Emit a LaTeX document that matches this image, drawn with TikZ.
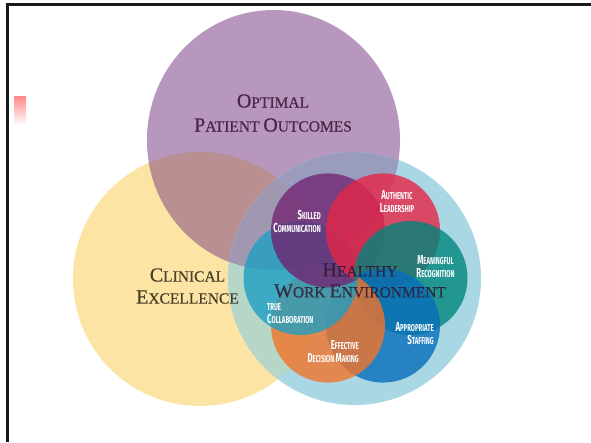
\documentclass[tikz,border=0pt]{standalone}
\usepackage{fontspec}
\newfontfamily\petalfont[FakeStretch=0.6]{Fira Sans}
\newfontfamily\capsfont[FakeBold=0.5]{Liberation Serif}
\definecolor{outcomes}{RGB}{184,151,190}
\definecolor{clinical}{RGB}{252,228,165}
\definecolor{hwe}{RGB}{170,215,228}
\definecolor{outclin}{RGB}{186,143,145}
\definecolor{outhwe}{RGB}{154,156,190}
\definecolor{clinhwe}{RGB}{182,215,200}
\definecolor{allthree}{RGB}{160,151,176}
\definecolor{pSkilled}{RGB}{115,39,115}
\definecolor{pAuthentic}{RGB}{229,38,70}
\definecolor{pMeaningful}{RGB}{0,134,124}
\definecolor{pStaffing}{RGB}{7,109,187}
\definecolor{pDecision}{RGB}{242,115,43}
\definecolor{pCollab}{RGB}{31,159,194}
\definecolor{txtOutcomes}{RGB}{72,38,72}
\definecolor{txtClinical}{RGB}{72,62,40}
\definecolor{txtHwe}{RGB}{48,28,52}
\definecolor{flag}{RGB}{255,135,135}
% small capitals built from two sizes of capitals
\newcommand\pcap[2]{{\fontsize{13}{13}\selectfont #1}{\fontsize{10}{13}\selectfont #2}}
\newcommand\psmall[1]{{\fontsize{10}{13}\selectfont #1}}
\newcommand\bcap[2]{{\fontsize{20}{20}\selectfont #1}{\fontsize{15.5}{20}\selectfont #2}}
\begin{document}
\begin{tikzpicture}[x=1pt,y=-1pt,
  petal/.style={fill opacity=0.8},
  bigtext/.style={font=\capsfont\fontsize{15.5}{24}\selectfont, align=center, inner sep=0pt},
  pettext/.style={text=white, font=\petalfont\bfseries\fontsize{10}{13}\selectfont, inner sep=0pt},
  frameline/.style={line width=3pt, color=black!90}]
\path[use as bounding box, fill=white] (0,0) rectangle (591,442);

% centres of the three large circles
\coordinate (cO) at (273.5,140);
\coordinate (cC) at (200,279);
\coordinate (cH) at (354.5,278.5);
% flower of six petals around the centre of the work environment circle
\coordinate (cS)  at (328,230.4);
\coordinate (cA)  at (383,230.4);
\coordinate (cM)  at (410.5,278);
\coordinate (cSt) at (383,325.6);
\coordinate (cD)  at (328,325.6);
\coordinate (cT)  at (300.5,278);

% large circles
\fill[clinical] (cC) circle [radius=127pt];
\fill[outcomes] (cO) ellipse [x radius=126.5pt, y radius=130pt];
\fill[hwe] (cH) circle [radius=126.5pt];
\begin{scope}
  \clip (cO) ellipse [x radius=126.5pt, y radius=130pt];
  \fill[outclin] (cC) circle [radius=127pt];
  \fill[outhwe] (cH) circle [radius=126.5pt];
  \clip (cC) circle [radius=127pt];
  \fill[allthree] (cH) circle [radius=126.5pt];
\end{scope}
\begin{scope}
  \clip (cC) circle [radius=127pt];
  \clip (cH) circle [radius=126.5pt];
  \fill[clinhwe, even odd rule] (cH) circle [radius=126.5pt] (cO) ellipse [x radius=126.5pt, y radius=130pt];
\end{scope}

% petals, each lying over the one before it
\fill[petal, pSkilled]    (cS)  circle [radius=57pt];
\fill[petal, pAuthentic]  (cA)  circle [radius=57pt];
\fill[petal, pMeaningful] (cM)  circle [radius=57pt];
\fill[petal, pStaffing]   (cSt) circle [radius=57pt];
\fill[petal, pDecision]   (cD)  circle [radius=57pt];
\fill[petal, pCollab]     (cT)  circle [radius=57pt];
% close the ring: the first petal lies over the last one
\begin{scope}
  \clip (cT) circle [radius=57pt];
  \fill[petal, pSkilled] (cS) circle [radius=57pt];
  \clip (cS) circle [radius=57pt];
  \fill[petal, pAuthentic] (cA) circle [radius=57pt];
  \clip (cA) circle [radius=57pt];
  \fill[petal, pMeaningful] (cM) circle [radius=57pt];
\end{scope}

% labels of the large circles
\node[bigtext, text=txtOutcomes] (tOut) at (273,113) {\bcap{O}{PTIMAL}\\\bcap{P}{ATIENT} \bcap{O}{UTCOMES}};
\node[bigtext, text=txtClinical, font=\capsfont\fontsize{15.5}{22}\selectfont] (tClin) at (187.5,286) {\bcap{C}{LINICAL}\\\bcap{E}{XCELLENCE}};
\node[bigtext, text=txtHwe, text opacity=0.85, font=\capsfont\fontsize{15.5}{21}\selectfont] (tHwe) at (360,280.5) {\bcap{H}{EALTHY}\\\bcap{W}{ORK} \bcap{E}{NVIRONMENT}};

% petal labels
\node[pettext, align=right, anchor=east] (lS) at (321,221) {\pcap{S}{KILLED}\\\pcap{C}{OMMUNICATION}};
\node[pettext, align=center] (lA) at (397,201.5) {\pcap{A}{UTHENTIC}\\\pcap{L}{EADERSHIP}};
\node[pettext, align=center] (lM) at (435.5,266.5) {\pcap{M}{EANINGFUL}\\\pcap{R}{ECOGNITION}};
\node[pettext, align=right, anchor=east] (lSt) at (434,333.5) {\pcap{A}{PPROPRIATE}\\\pcap{S}{TAFFING}};
\node[pettext, align=right, anchor=east] (lD) at (359,352) {\pcap{E}{FFECTIVE}\\\pcap{D}{ECISION} \pcap{M}{AKING}};
\node[pettext, align=left, anchor=west] (lT) at (267,314) {\psmall{TRUE}\\\pcap{C}{OLLABORATION}};

% small shaded tab and the frame edges
\shade[top color=flag, bottom color=white] (14,96) rectangle (26,125);
\coordinate (fTL) at (7.5,4);
\coordinate (fTR) at (591,4);
\coordinate (fBL) at (7.5,442);
\draw[frameline] (fTR) -- (fTL) -- (fBL);
\end{tikzpicture}
\end{document}
